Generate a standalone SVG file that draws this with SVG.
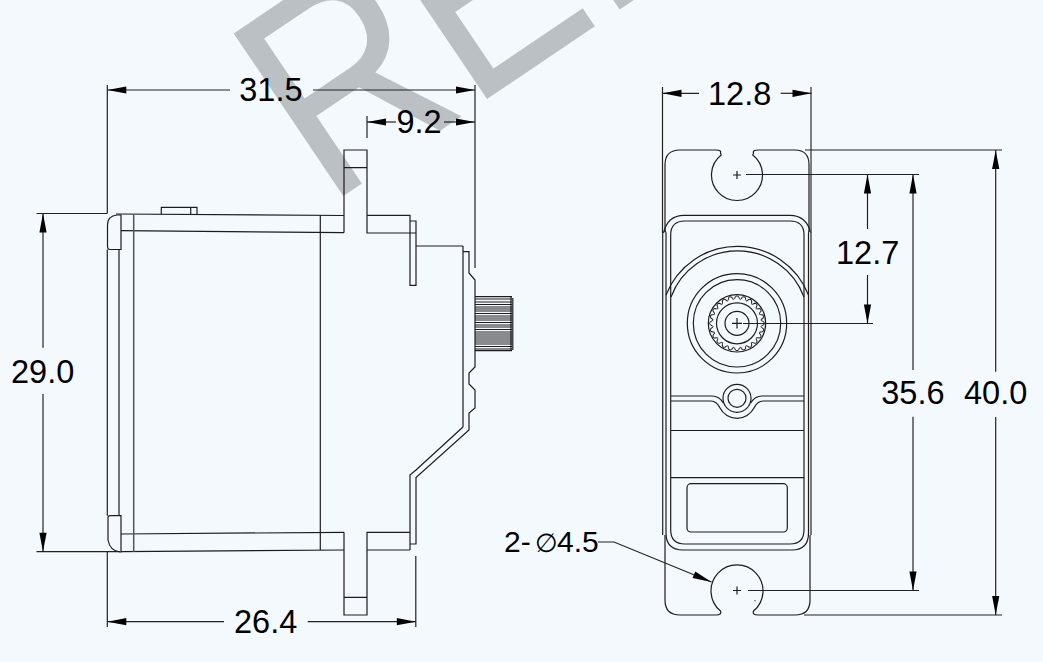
<svg xmlns="http://www.w3.org/2000/svg" xmlns:xlink="http://www.w3.org/1999/xlink" width="1043" height="662" viewBox="0 0 1043 662">
<style>
.l{fill:none;stroke:#1c1c1c;stroke-width:1.2}
.g{fill:none;stroke:#555;stroke-width:1.5}
.d{fill:none;stroke:#222;stroke-width:1.2}
.a{fill:none;stroke:#222;stroke-width:1.2;marker-end:url(#arrow)}
.t{font-family:"Liberation Sans",Arial,sans-serif;font-size:32.5px;fill:#000}
.w{font-family:"Liberation Sans",Arial,sans-serif;font-size:100px;fill:#bbc0c4}
</style>
<defs>
<marker id="arrow" markerUnits="userSpaceOnUse" markerWidth="22" markerHeight="10" refX="20" refY="5" orient="auto" viewBox="0 0 22 10"><path d="M1,1.4 L20,5 L1,8.6 Z" fill="#000"/></marker>
<path id="tooth" d="M-3.17,-24.09 Q-2.4,-24 -1.7,-26.6 Q0,-28.4 1.7,-26.6 Q2.4,-24 3.17,-24.09" fill="none" stroke="#1c1c1c" stroke-width="1"/>
</defs>
<rect width="1043" height="662" fill="#f4f9fe"/>
<g id="watermark"><text class="w" transform="translate(327,207) rotate(-34) scale(2.4,2.85)">REF</text></g>

<g id="side-view">
<path class="l" d="M107.5 225 Q107.5 216 117 215 H121 V249.5 H110 Q107.5 249.5 107.5 246 Z"/>
<path class="l" d="M108 518 Q108 515.7 110 515.7 H121 V552 H120 Q110 551 108 540 Z"/>
<path class="l" d="M116 214 L344 215.5 M121 230.7 L344 232.7 M121 534 L344 532.3 M121 551.7 L344 550"/>
<path class="l" d="M107.3 249.5 V515.7 M119 250 V515.7"/>
<path class="g" d="M133.7 214 V552" stroke-width="1.2"/>
<path class="l" d="M320.3 215 V550"/>
<path class="l" d="M161.3 214.3 V207.3 H197 V214.5 M190.7 207.3 V214.5"/>
<path class="l" d="M344 232.7 V150 H367 V215.3 H410 V285.3 H416 V221 H410 M344 167.7 H367 M367 215.3 V233 H416 M416 246 H463 M463 246 V427 M463 251.7 H469 V273 L475 280 V367 L469 373 V384 L475 390 V408 L469 413 V430 L416 477.5 V544 H410 M463 427 L416 470 L410 475 V550"/>
<path class="l" d="M344 532.3 V615 H367 V532.3 H410 M344 597.3 H367 M367 550 H410"/>
<path class="l" d="M475 296.7 H512 M475 299 H512 M475 302 H512 M475 304.5 H512 M475 307 H512 M475 309 H512 M475 311 H512 M475 313.5 H512 M475 316 H512 M475 318 H512 M475 320 H512 M475 322.5 H512 M475 325 H512 M475 327 H512 M475 329.5 H512 M475 332 H512 M475 334 H512 M475 336 H512 M475 338 H512 M475 340 H512 M475 342 H512 M475 344 H512 M475 346.5 H512 M475 349 H512 M475 350.7 H512"/>
<path class="l" d="M511 297 V351 M512.8 298 V350" stroke-width="1.4"/>
</g>

<g id="front-view">
<path class="l" d="M665 232 V165 Q665 150 680 150 H716 Q721.5 150 720.5 153 L721.2 155 A25.5 25.5 0 1 0 752.8 155 L753.5 153 Q752.5 150 758 150 H795 Q809 150 809 165 V232"/>
<path class="l" d="M665 535 V600 Q665 615 680 615 H716 Q722 615 720.5 611 A26 26 0 1 1 753.5 611 Q752 615 758 615 H795 Q810 615 810 600 V535"/>
<path class="l" d="M663.5 233 C666 222 672 215.3 684 215.3 H790 C802 215.3 808 222 811 233 M666 233 Q665 228 663.5 233 M808.5 233 Q809.5 228 811 233"/>
<path class="l" d="M670.7 530 V235 Q670.7 221 685 221 H790 Q804 221 804 235 V530 Q804 544 790 544 H685 Q670.7 544 670.7 530 Z"/>
<path class="l" d="M666 233 V533 Q666 550 683 550 H792 Q808.5 550 808.5 533 V233"/>
<path class="l" d="M666 295 A76.5 76.5 0 0 1 808.5 295 M671 297 A71 71 0 0 1 804 297"/>
<circle class="l" cx="737" cy="323.3" r="49.7"/>
<circle class="l" cx="737" cy="323.3" r="43.7"/>
<circle class="l" cx="737" cy="323.3" r="28.7" stroke-width="1.4"/>
<circle class="l" cx="737" cy="323.3" r="20.5"/>
<circle class="l" cx="737" cy="323.3" r="12"/>
<g transform="translate(737,323.3)">
<use xlink:href="#tooth"/><use xlink:href="#tooth" transform="rotate(15)"/><use xlink:href="#tooth" transform="rotate(30)"/><use xlink:href="#tooth" transform="rotate(45)"/><use xlink:href="#tooth" transform="rotate(60)"/><use xlink:href="#tooth" transform="rotate(75)"/><use xlink:href="#tooth" transform="rotate(90)"/><use xlink:href="#tooth" transform="rotate(105)"/><use xlink:href="#tooth" transform="rotate(120)"/><use xlink:href="#tooth" transform="rotate(135)"/><use xlink:href="#tooth" transform="rotate(150)"/><use xlink:href="#tooth" transform="rotate(165)"/><use xlink:href="#tooth" transform="rotate(180)"/><use xlink:href="#tooth" transform="rotate(195)"/><use xlink:href="#tooth" transform="rotate(210)"/><use xlink:href="#tooth" transform="rotate(225)"/><use xlink:href="#tooth" transform="rotate(240)"/><use xlink:href="#tooth" transform="rotate(255)"/><use xlink:href="#tooth" transform="rotate(270)"/><use xlink:href="#tooth" transform="rotate(285)"/><use xlink:href="#tooth" transform="rotate(300)"/><use xlink:href="#tooth" transform="rotate(315)"/><use xlink:href="#tooth" transform="rotate(330)"/><use xlink:href="#tooth" transform="rotate(345)"/>
</g>
<path class="l" d="M732 323.3 H742 M737 318 V328.5"/>
<path class="l" d="M733 175 H741 M737 171 V179"/>
<path class="l" d="M733 590.5 H741 M737 586.5 V594.5 M755 600.3 V601.3"/>
<circle class="l" cx="737" cy="398.3" r="9"/>
<circle class="l" cx="737" cy="398.3" r="14"/>
<path class="l" d="M671 396 H712 C717 396 721 399 723.3 403 M804 396 H762 C757 396 753 399 750.7 403"/>
<path class="l" d="M671 401 H711 C716 401 718 404 720 408 C723 414 730 418.3 737 418.3 C744 418.3 751 414 754 408 C756 404 758 401 763 401 H804"/>
<path class="l" d="M671 430.5 H804 M671 477.7 H804"/>
<rect class="l" x="687" y="483.7" width="100.3" height="48.3" rx="4"/>
</g>

<g id="connectors">
<path class="d" d="M107.3 85 V213.5 M475 85 V268 M367 116 V138"/>
<path class="a" d="M230 90 H107.3"/><path class="a" d="M313 90 H475"/>
<path class="a" d="M396 122 H367"/><path class="a" d="M444 122 H475"/>
<path class="d" d="M36.5 213.5 H107.3 M36.5 551.7 H120"/>
<path class="a" d="M43 347.7 V213.5"/><path class="a" d="M43 394 V551.7"/>
<path class="d" d="M107.3 552 V627 M415.8 556 V627"/>
<path class="a" d="M224 621.7 H107.3"/><path class="a" d="M307.7 621.7 H415.8"/>
<path class="d" d="M662.5 87 V233 M662.7 233 V535"/>
<path class="g" d="M811 87 V233"/><path class="d" d="M811 233 V535"/>
<path class="a" d="M699 93.3 H662.5"/><path class="a" d="M780.7 93.3 H811.5"/>
<path class="d" d="M746 174.5 H919 M743 323.5 H873 M748 590.5 H919 M805 150 H1002 M804 615 H1002"/>
<path class="a" d="M867.5 229 V174.5"/><path class="a" d="M867.5 275 V323.5"/>
<path class="a" d="M913 370 V174.5"/><path class="a" d="M913 416.7 V590.5"/>
<path class="a" d="M995.7 371.7 V150"/><path class="a" d="M995.7 417 V615"/>
<path class="a" d="M598 542 H614 L711.5 582"/>
</g>

<g id="labels">
<text class="t" x="239.3" y="101">31.5</text>
<text class="t" x="396.5" y="133.3">9.2</text>
<text class="t" x="11" y="382.7">29.0</text>
<text class="t" x="234" y="632.7">26.4</text>
<text class="t" x="708" y="105">12.8</text>
<text class="t" x="836" y="264">12.7</text>
<text class="t" x="881.3" y="404.3">35.6</text>
<text class="t" x="964" y="404.3">40.0</text>
<text class="t" y="552.3" style="font-size:30px"><tspan x="504">2-</tspan><tspan x="535" style="font-family:'DejaVu Sans',sans-serif;font-size:26px" font-style="italic">∅</tspan><tspan x="557">4.5</tspan></text>
</g>
</svg>
